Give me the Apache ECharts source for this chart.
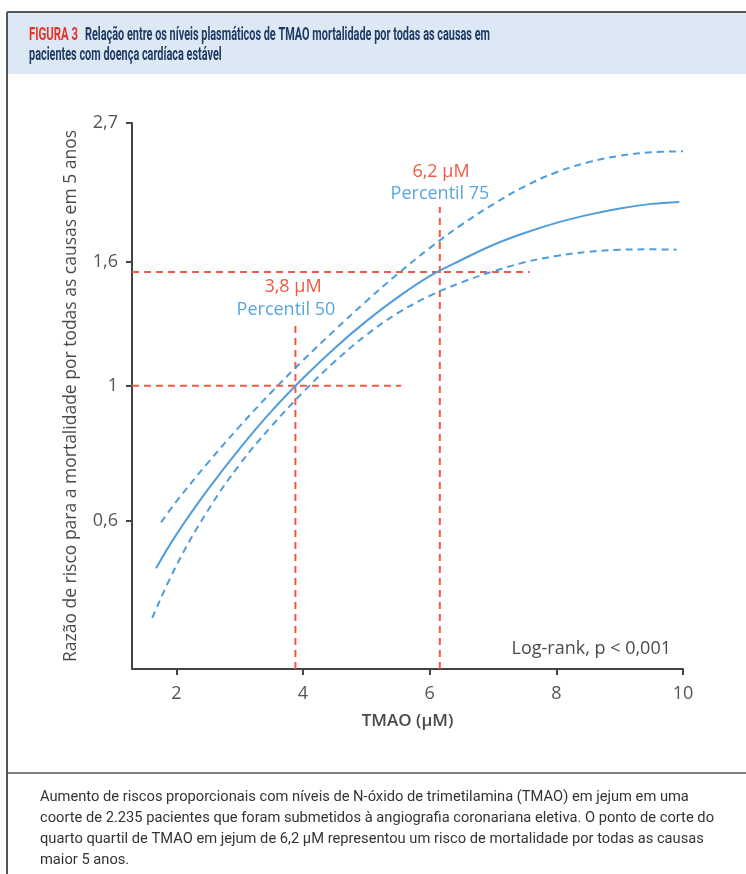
<!DOCTYPE html>
<html><head><meta charset="utf-8">
<script src="https://cdn.jsdelivr.net/npm/echarts@6/dist/echarts.min.js"></script>
<style>html,body{margin:0;padding:0;background:#fff}#c{width:746px;height:874px}</style>
</head><body><div id="c"></div>
<script>
// ---- data ----
const solidX = [1.68, 2, 2.5, 3, 3.5, 4, 4.5, 5, 5.5, 6, 6.5, 7, 7.5, 8, 8.5, 9, 9.5, 9.94];
const solidHR = [0.502, 0.570, 0.676, 0.789, 0.908, 1.029, 1.153, 1.277, 1.398, 1.514, 1.609, 1.703, 1.782, 1.851, 1.908, 1.955, 1.989, 2.004];
const upperX = [1.76, 2, 2.5, 3, 3.5, 4, 4.5, 5, 5.5, 6, 6.5, 7, 7.5, 8, 8.5, 9, 9.5, 10];
const upperHR = [0.597, 0.646, 0.748, 0.858, 0.976, 1.101, 1.234, 1.377, 1.528, 1.683, 1.837, 1.985, 2.125, 2.241, 2.327, 2.385, 2.417, 2.426];
const lowerX = [1.62, 2, 2.5, 3, 3.5, 4, 4.5, 5, 5.5, 6, 6.5, 7, 7.5, 8, 8.5, 9, 9.5, 9.9];
const lowerHR = [0.416, 0.507, 0.625, 0.743, 0.858, 0.976, 1.096, 1.212, 1.317, 1.405, 1.478, 1.541, 1.595, 1.634, 1.659, 1.672, 1.675, 1.673];
// reference (cut-off) lines: [x, HR] endpoints
const p50Vertical = [[3.88, 0.343], [3.88, 1.277]];
const p50Horizontal = [[1.3, 1.0], [5.55, 1.0]];
const p75Vertical = [[6.16, 0.343], [6.16, 1.966]];
const p75Horizontal = [[1.3, 1.537], [7.58, 1.537]];
const xTicks = [2, 4, 6, 8, 10];
const yTicks = [0.6, 1, 1.6, 2.7];
const annotationTexts = ['6,2 μM', 'Percentil 75', '3,8 μM', 'Percentil 50', 'Log-rank, p < 0,001'];
const titleTag = 'FIGURA 3';
const titleLines = ['Relação entre os níveis plasmáticos de TMAO mortalidade por todas as causas em', 'pacientes com doença cardíaca estável'];
const captionLines = [
  'Aumento de riscos proporcionais com níveis de N-óxido de trimetilamina (TMAO) em jejum em uma',
  'coorte de 2.235 pacientes que foram submetidos à angiografia coronariana eletiva. O ponto de corte do',
  'quarto quartil de TMAO em jejum de 6,2 μM representou um risco de mortalidade por todas as causas',
  'maior 5 anos.'
];
const xName = 'TMAO (μM)';
const yName = 'Razão de risco para a mortalidade por todas as causas em 5 anos';

// ---- helpers ----
const zip = (xs, ys) => xs.map((x, i) => [x, ys[i]]);
const mctx = document.createElement('canvas').getContext('2d');
function measure(text, font) { mctx.font = font; return mctx.measureText(text).width; }

const BLUE = '#4f9ddc';
const RED = '#ef5a44';
const GRAY = '#4a4a4a';
const FONT = '"Open Sans", "Noto Sans", sans-serif';

const titleFont = 'bold 18px Roboto';
const tagScale = 49 / measure(titleTag, titleFont);
const titleScale = 405 / measure(titleLines[0], titleFont);
const capFont = '14.5px Roboto';
const capScale = 674 / measure(captionLines[1], capFont);

const graphics = [
  { type: 'rect', shape: { x: 8, y: 13, width: 740, height: 61 }, style: { fill: '#dde8f5' }, z: 0 },
  { type: 'line', shape: { x1: 7, y1: 12, x2: 746, y2: 12 }, style: { stroke: '#555', lineWidth: 2 } },
  { type: 'line', shape: { x1: 7, y1: 12, x2: 7, y2: 874 }, style: { stroke: '#555', lineWidth: 2 } },
  { type: 'line', shape: { x1: 7, y1: 773, x2: 746, y2: 773 }, style: { stroke: '#555', lineWidth: 1.5 } },
  { type: 'text', x: 29, y: 35, scaleX: tagScale, style: { text: titleTag, font: titleFont, fill: '#e6332a', textVerticalAlign: 'middle' } },
  { type: 'text', x: 85, y: 35, scaleX: titleScale, style: { text: titleLines[0], font: titleFont, fill: '#1f3a63', textVerticalAlign: 'middle' } },
  { type: 'text', x: 29, y: 55, scaleX: titleScale, style: { text: titleLines[1], font: titleFont, fill: '#1f3a63', textVerticalAlign: 'middle' } },
  { type: 'text', x: 441, y: 172, style: { text: annotationTexts[0], font: '18px ' + FONT, fill: RED, textAlign: 'center', textVerticalAlign: 'middle' } },
  { type: 'text', x: 440, y: 194, style: { text: annotationTexts[1], font: '18px ' + FONT, fill: '#5aa5df', textAlign: 'center', textVerticalAlign: 'middle' } },
  { type: 'text', x: 293, y: 287, style: { text: annotationTexts[2], font: '18px ' + FONT, fill: RED, textAlign: 'center', textVerticalAlign: 'middle' } },
  { type: 'text', x: 286, y: 310, style: { text: annotationTexts[3], font: '18px ' + FONT, fill: '#5aa5df', textAlign: 'center', textVerticalAlign: 'middle' } },
  { type: 'text', x: 671, y: 649, style: { text: annotationTexts[4], font: '18px ' + FONT, fill: GRAY, textAlign: 'right', textVerticalAlign: 'middle' } }
];
captionLines.forEach((t, i) => {
  graphics.push({ type: 'text', x: 40, y: 797 + i * 21, scaleX: capScale, style: { text: t, font: capFont, fill: '#333', textVerticalAlign: 'middle' } });
});

const refStyle = { color: RED, width: 2, type: [7, 5] };
const refSeries = (data) => ({ type: 'line', data, showSymbol: false, symbol: 'none', silent: true, lineStyle: refStyle, z: 1 });

const chart = echarts.init(document.getElementById('c'), null, { renderer: 'canvas' });
chart.setOption({
  animation: false,
  backgroundColor: '#fff',
  grid: { left: 132, top: 123, right: 63, bottom: 205, containLabel: false, outerBoundsMode: 'none' },
  xAxis: {
    type: 'value', min: 1.3, max: 10,
    name: xName, nameLocation: 'middle', nameGap: 44,
    nameTextStyle: { fontSize: 17, fontWeight: 600, color: GRAY, fontFamily: FONT },
    axisLine: { show: true, lineStyle: { color: '#444', width: 2 } },
    axisTick: { show: true, length: 6, customValues: xTicks, lineStyle: { color: '#444', width: 2 } },
    axisLabel: { customValues: xTicks, fontSize: 18, color: '#555', fontFamily: FONT, margin: 16 },
    splitLine: { show: false }
  },
  yAxis: {
    type: 'log', logBase: Math.E, min: 0.343, max: 2.7,
    name: yName, nameLocation: 'middle', nameGap: 52, nameRotate: 90,
    nameTextStyle: { fontSize: 17.5, color: GRAY, fontFamily: FONT },
    axisLine: { show: true, lineStyle: { color: '#444', width: 2 } },
    axisTick: { show: true, length: 6, customValues: yTicks, lineStyle: { color: '#444', width: 2 } },
    axisLabel: { customValues: yTicks, fontSize: 18, color: '#555', fontFamily: FONT, margin: 14,
      formatter: v => String(Math.round(v * 10) / 10).replace('.', ',') },
    splitLine: { show: false }
  },
  series: [
    refSeries(p50Vertical), refSeries(p50Horizontal), refSeries(p75Vertical), refSeries(p75Horizontal),
    { type: 'line', data: zip(upperX, upperHR), smooth: 0.4, showSymbol: false, symbol: 'none', lineStyle: { color: BLUE, width: 2, type: [7, 5] }, z: 2 },
    { type: 'line', data: zip(lowerX, lowerHR), smooth: 0.4, showSymbol: false, symbol: 'none', lineStyle: { color: BLUE, width: 2, type: [7, 5] }, z: 2 },
    { type: 'line', data: zip(solidX, solidHR), smooth: 0.4, showSymbol: false, symbol: 'none', lineStyle: { color: BLUE, width: 2 }, z: 3 }
  ],
  graphic: graphics
});
</script>
</body></html>
